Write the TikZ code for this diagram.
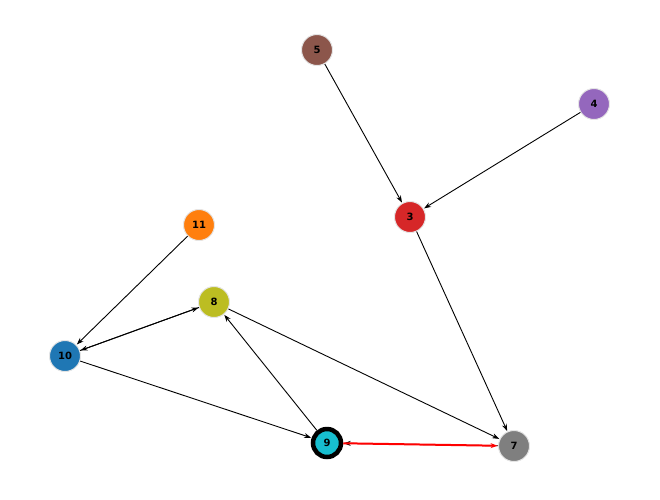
\documentclass[tikz,border=0pt]{standalone}
\usetikzlibrary{arrows.meta}
\usepackage{fontspec}
\setmainfont{DejaVu Sans}
\definecolor{cbrown}{HTML}{8C564B}\definecolor{cpurple}{HTML}{9467BD}
\definecolor{cred}{HTML}{D62728}\definecolor{corange}{HTML}{FF7F0E}
\definecolor{colive}{HTML}{BCBD22}\definecolor{cblue}{HTML}{1F77B4}
\definecolor{ccyan}{HTML}{17BECF}\definecolor{cgray}{HTML}{7F7F7F}
\tikzset{
 vert/.style={circle,draw=white!80!gray,line width=1pt,minimum size=31pt,inner sep=0pt,font=\bfseries\fontsize{10}{10}\selectfont},
 edge/.style={-{Stealth[length=7pt,width=5pt]},line width=0.9pt,shorten >=0.5pt},
}
\begin{document}
\begin{tikzpicture}[x=1pt,y=-1pt]
\useasboundingbox (0,0) rectangle (660,499);
\node[vert,fill=cbrown] (n5) at (317,50) {5};
\node[vert,fill=cpurple] (n4) at (594,104) {4};
\node[vert,fill=cred] (n3) at (410,217) {3};
\node[vert,fill=corange] (n11) at (199,225) {11};
\node[vert,fill=colive] (n8) at (214,302) {8};
\node[vert,fill=cblue] (n10) at (65,356) {10};
\node[vert,fill=ccyan,draw=black,line width=4.5pt,minimum size=28pt] (n9) at (327,443) {9};
\node[vert,fill=cgray] (n7) at (514,446) {7};
\draw[edge] (n5) -- (n3);
\draw[edge] (n4) -- (n3);
\draw[edge] (n3) -- (n7);
\draw[edge] (n11) -- (n10);
\draw[edge] (n10) -- (n8);
\draw[edge] (n8) -- (n10);
\draw[edge] (n8) -- (n7);
\draw[edge] (n9) -- (n8);
\draw[edge] (n10) -- (n9);
\draw[edge] (n7) -- (n9);
\draw[edge,red,line width=2pt] (n9) -- (n7);
\end{tikzpicture}
\end{document}
